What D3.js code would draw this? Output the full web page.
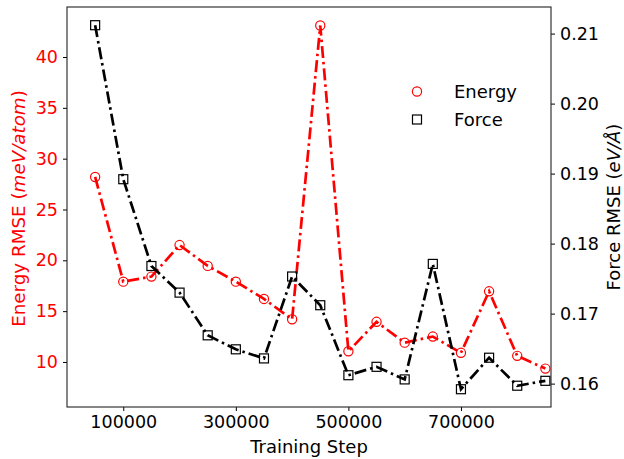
<!DOCTYPE html>
<html>
<head>
<meta charset="utf-8">
<script src="https://cdn.jsdelivr.net/npm/d3@7"></script>
<style>
  body { margin: 0; background: #fff; }
  svg text { font-family: "DejaVu Sans", sans-serif; }
</style>
</head>
<body>
<div id="chart"></div>
<script>
// Chart values
var steps = [50000, 100000, 150000, 200000, 250000, 300000, 350000, 400000, 450000,
             500000, 550000, 600000, 650000, 700000, 750000, 800000, 850000];
var energy = [28.2, 17.9, 18.4, 21.5, 19.45, 17.9, 16.2, 14.2, 43.1,
              11.05, 13.95, 11.9, 12.5, 10.9, 16.95, 10.6, 9.35];
var force = [0.2112, 0.1892, 0.1768, 0.1730, 0.1669, 0.1649, 0.1636, 0.1753, 0.1712,
             0.1612, 0.1624, 0.1606, 0.1771, 0.1592, 0.1637, 0.1597, 0.1604];
var xTicks = [100000, 300000, 500000, 700000];
var energyTicks = [10, 15, 20, 25, 30, 35, 40];
var forceTicks = [0.16, 0.17, 0.18, 0.19, 0.20, 0.21];

var width = 624, height = 459;
// plot box edges (note: "top" is reserved on window, so use other names)
var plotL = 67, plotR = 551, plotT = 7, plotB = 407;

var svg = d3.select("#chart").append("svg")
    .attr("width", width)
    .attr("height", height);

// scales
var x = d3.scaleLinear().domain([0, 860000]).range([plotL, plotR]);
var yE = d3.scaleLinear().domain([5.57, 44.92]).range([plotB, plotT]);
var yF = d3.scaleLinear().domain([0.15666, 0.2138]).range([plotB, plotT]);

// axes
var xAxis = svg.append("g")
    .attr("transform", "translate(0," + plotB + ")")
    .call(d3.axisBottom(x).tickValues(xTicks).tickFormat(d3.format("d")).tickSizeOuter(0).tickSize(4).tickPadding(5));
xAxis.selectAll("text").attr("font-size", 17.5).attr("fill", "#000");

var yAxisL = svg.append("g")
    .attr("transform", "translate(" + plotL + ",0)")
    .call(d3.axisLeft(yE).tickValues(energyTicks).tickSizeOuter(0).tickSize(4).tickPadding(5));
yAxisL.selectAll("text").attr("font-size", 17.5).attr("fill", "red");

var yAxisR = svg.append("g")
    .attr("transform", "translate(" + plotR + ",0)")
    .call(d3.axisRight(yF).tickValues(forceTicks).tickFormat(d3.format(".2f")).tickSizeOuter(0).tickSize(4).tickPadding(5));
yAxisR.selectAll("text").attr("font-size", 17.5).attr("fill", "#000");

svg.selectAll(".domain").remove();
svg.selectAll(".tick line").attr("stroke", "#000").attr("stroke-width", 1);

// frame
svg.append("rect")
    .attr("x", plotL).attr("y", plotT)
    .attr("width", plotR - plotL).attr("height", plotB - plotT)
    .attr("fill", "none").attr("stroke", "#222").attr("stroke-width", 1.1);

// lines
var dash = "12,4,2.5,4";
var lineE = d3.line().x(function (d, i) { return x(steps[i]); }).y(function (d) { return yE(d); });
var lineF = d3.line().x(function (d, i) { return x(steps[i]); }).y(function (d) { return yF(d); });

svg.append("path")
    .attr("d", lineE(energy))
    .attr("fill", "none").attr("stroke", "red")
    .attr("stroke-width", 2.7).attr("stroke-dasharray", dash);

svg.selectAll(".eDot")
    .data(energy)
    .enter().append("circle")
    .attr("class", "eDot")
    .attr("cx", function (d, i) { return x(steps[i]); })
    .attr("cy", function (d) { return yE(d); })
    .attr("r", 4.6)
    .attr("fill", "none").attr("stroke", "red").attr("stroke-width", 1.2);

svg.append("path")
    .attr("d", lineF(force))
    .attr("fill", "none").attr("stroke", "#000")
    .attr("stroke-width", 2.7).attr("stroke-dasharray", dash);

svg.selectAll(".fDot")
    .data(force)
    .enter().append("rect")
    .attr("class", "fDot")
    .attr("x", function (d, i) { return x(steps[i]) - 4.5; })
    .attr("y", function (d) { return yF(d) - 4.5; })
    .attr("width", 9).attr("height", 9)
    .attr("fill", "none").attr("stroke", "#000").attr("stroke-width", 1.2);

// axis labels
svg.append("text")
    .attr("x", (plotL + plotR) / 2).attr("y", 453)
    .attr("text-anchor", "middle").attr("font-size", 18)
    .text("Training Step");

var lblE = svg.append("text")
    .attr("transform", "translate(24.5," + ((plotT + plotB) / 2 + 1.5) + ") rotate(-90)")
    .attr("text-anchor", "middle").attr("font-size", 18.3).attr("fill", "red");
lblE.append("tspan").text("Energy RMSE (");
lblE.append("tspan").attr("font-style", "italic").text("meV/atom");
lblE.append("tspan").text(")");

var lblF = svg.append("text")
    .attr("transform", "translate(619.5," + ((plotT + plotB) / 2) + ") rotate(-90)")
    .attr("text-anchor", "middle").attr("font-size", 18).attr("fill", "#000");
lblF.append("tspan").text("Force RMSE (");
lblF.append("tspan").attr("font-style", "italic").text("eV/Å");
lblF.append("tspan").text(")");

// legend
var legend = svg.append("g");
legend.append("circle")
    .attr("cx", 417).attr("cy", 91.5).attr("r", 4.6)
    .attr("fill", "none").attr("stroke", "red").attr("stroke-width", 1.2);
legend.append("text")
    .attr("x", 454).attr("y", 97.5).attr("font-size", 18).text("Energy");
legend.append("rect")
    .attr("x", 412.5).attr("y", 115).attr("width", 9).attr("height", 9)
    .attr("fill", "none").attr("stroke", "#000").attr("stroke-width", 1.2);
legend.append("text")
    .attr("x", 454).attr("y", 125.5).attr("font-size", 18).text("Force");
</script>
</body>
</html>
